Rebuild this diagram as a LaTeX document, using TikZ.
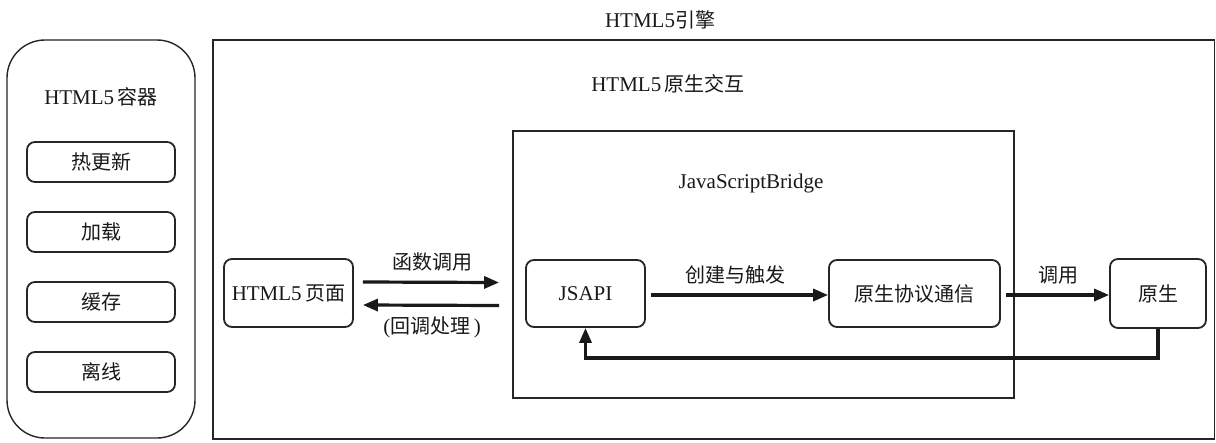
\documentclass[tikz,border=0pt]{standalone}
\usepackage{fontspec}
\setmainfont{Liberation Serif}
\newfontfamily\cjk{Noto Sans CJK SC}
\usetikzlibrary{arrows.meta,calc}
\newcommand{\zh}[1]{{\cjk\fontsize{20}{24}\selectfont #1}}
\tikzset{
  lbl/.style={font=\fontsize{21}{25}\selectfont, text=black!90, inner sep=0pt},
  frame/.style={draw=black!85, line width=1.4pt},
  rbox/.style={lbl, draw=black!85, line width=1.8pt, rounded corners=8pt, align=center},
  arr/.style={draw=black!90, line width=3.2pt, -{Triangle[length=15pt,width=12pt]}},
  link/.style={draw=black!90, line width=3.2pt}
}
\begin{document}
\begin{tikzpicture}[x=1pt,y=-1pt]
  \useasboundingbox (0,0) rectangle (1216,442);
  \fill[white] (0,0) rectangle (1216,442);

  % container column
  \draw[frame, rounded corners=38pt] (7,40) rectangle (195,438);
  \node[lbl] (ctitle) at (101,97) {HTML5\,\zh{容器}};
  \node[rbox, minimum width=148pt, minimum height=40pt] (hot) at (101,162) {\zh{热更新}};
  \node[rbox, minimum width=148pt, minimum height=40pt] (load) at (101,232) {\zh{加载}};
  \node[rbox, minimum width=148pt, minimum height=40pt] (cache) at (101,302) {\zh{缓存}};
  \node[rbox, minimum width=148pt, minimum height=40pt] (offline) at (101,372) {\zh{离线}};

  % engine frame
  \node[lbl] (etitle) at (660,20) {HTML5\zh{引擎}};
  \draw[frame] (213,40) rectangle (1214.5,439);
  \node[lbl] (ititle) at (668,84) {HTML5\,\zh{原生交互}};

  % bridge frame
  \draw[frame] (513,131) rectangle (1014,398);
  \node[lbl] (btitle) at (751,183) {JavaScriptBridge};

  % blocks
  \node[rbox, minimum width=129pt, minimum height=68pt] (page) at (288.5,293) {HTML5\,\zh{页面}};
  \node[rbox, minimum width=119pt, minimum height=67pt] (jsapi) at (585.5,293.5) {JSAPI};
  \node[rbox, minimum width=171pt, minimum height=67pt] (proto) at (914.5,293.5) {\zh{原生协议通信}};
  \node[rbox, minimum width=96pt, minimum height=69pt] (native) at (1158,293.5) {\zh{原生}};

  % connectors
  \draw[arr] ([xshift=9pt,yshift=11pt]page.east) -- ([xshift=-26pt,yshift=11pt]jsapi.west);
  \draw[arr] ([xshift=-26pt,yshift=-12pt]jsapi.west) -- ([xshift=9pt,yshift=-12pt]page.east);
  \node[lbl] (lcall) at (432,262) {\zh{函数调用}};
  \node[lbl] (lback) at (432,327) {(\zh{回调处理}\,)};

  \draw[arr] ([xshift=5pt,yshift=-1.5pt]jsapi.east) -- ([yshift=-1.5pt]proto.west);
  \node[lbl] (lmake) at (735,275) {\zh{创建与触发}};

  \draw[arr] ([xshift=5pt,yshift=-1.5pt]proto.east) -- ([yshift=-1.5pt]native.west);
  \node[lbl] (linvoke) at (1058,275) {\zh{调用}};

  \draw[arr] (native.south) -- ++(0,29) -| (jsapi.south);
\end{tikzpicture}
\end{document}
